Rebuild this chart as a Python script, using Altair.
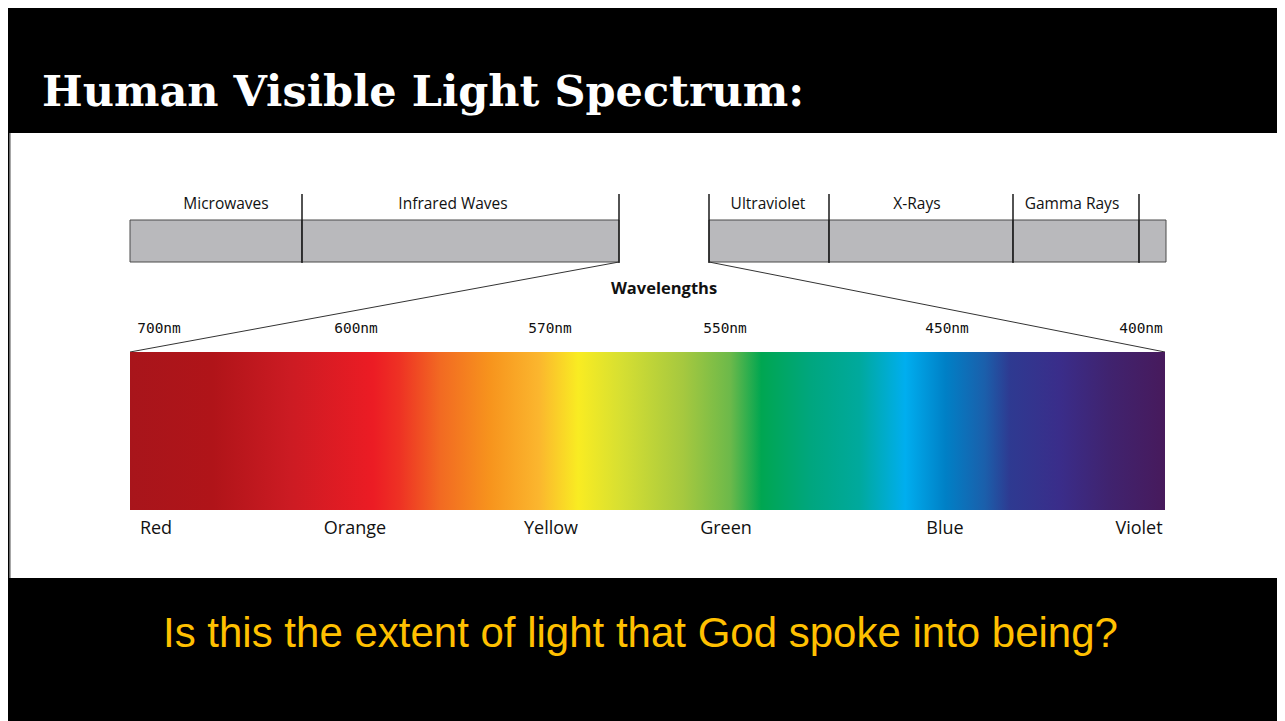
import altair as alt
import pandas as pd

# ---------------- data (diagram coordinates, px on the slide) ----------------
title_text = ["Human Visible Light Spectrum:"]
question_text = ["Is this the extent of light that God spoke into being?"]

band_names = ["Microwaves", "Infrared  Waves", "Ultraviolet", "X-Rays", "Gamma Rays", ""]
band_start = [130, 302, 709, 829, 1013, 1139]
band_end = [302, 619, 829, 1013, 1139, 1166]
band_label_x = [226, 453, 768, 917, 1072, 1152]
divider_x = [302, 619, 709, 829, 1013, 1139]

wavelength_labels = ["700nm", "600nm", "570nm", "550nm", "450nm", "400nm"]
wavelength_x = [159, 356, 550, 725, 947, 1141]

colour_names = ["Red", "Orange", "Yellow", "Green", "Blue", "Violet"]
colour_x = [156, 355, 551, 726, 945, 1139]

stop_offsets = [0.0, 0.08, 0.155, 0.235, 0.26, 0.30, 0.348, 0.395, 0.433,
                0.475, 0.535, 0.58, 0.61, 0.657, 0.705, 0.749, 0.788,
                0.826, 0.85, 0.898, 0.946, 1.0]
stop_colours = ["#a8151b", "#b01419", "#cc1b23", "#ec1c24", "#ee3124", "#f26a22",
                "#f7941d", "#fbb62e", "#f9ec22", "#d6df32", "#a5c83f", "#6cb94a",
                "#00a651", "#00a67e", "#00a99d", "#00aeef", "#0080c6", "#1b5fab",
                "#2e3a91", "#3a2d8a", "#40236f", "#471a5c"]

# ---------------- scales ----------------
W, H = 1269, 713
xs = alt.Scale(domain=[8, 8 + W], nice=False, zero=False)
ys = alt.Scale(domain=[8, 8 + H], nice=False, zero=False, reverse=True)


def X(f="x"):
    return alt.X(f"{f}:Q", scale=xs, axis=None)


def Y(f="y"):
    return alt.Y(f"{f}:Q", scale=ys, axis=None)


# white panel
panel_df = pd.DataFrame({"x": [10], "x2": [1300], "y": [133], "y2": [578]})
panel = alt.Chart(panel_df).mark_rect(fill="white").encode(
    x=X(), x2="x2", y=Y(), y2="y2")
panel_edge = alt.Chart(panel_df).mark_rule(color="#8a8a8a", strokeWidth=1.5).encode(
    x=X(), y=Y(), y2="y2")

# gray EM bands
bands_df = pd.DataFrame({"name": band_names, "x": band_start, "x2": band_end,
                         "xc": band_label_x, "y": [220] * 6, "y2": [262] * 6,
                         "yt": [204] * 6})
bands = alt.Chart(bands_df).mark_rect(fill="#b9b9bc", stroke="#4a4a4a", strokeWidth=1).encode(
    x=X(), x2="x2", y=Y(), y2="y2")
band_labels = alt.Chart(bands_df).mark_text(
    font="Open Sans", fontSize=15.5, color="#111111", align="center", baseline="middle"
).encode(x=X("xc"), y=Y("yt"), text="name:N")

div_df = pd.DataFrame({"x": divider_x, "y": [194] * 6, "y2": [263] * 6})
dividers = alt.Chart(div_df).mark_rule(color="#1a1a1a", strokeWidth=1.5).encode(
    x=X(), y=Y(), y2="y2")

# zoom lines
zoom_df = pd.DataFrame({"x": [619, 709], "y": [262, 262], "x2": [130, 1165], "y2": [352, 352]})
zoom_lines = alt.Chart(zoom_df).mark_rule(color="#333333", strokeWidth=1).encode(
    x=X(), y=Y(), x2="x2", y2="y2")

wl_title = alt.Chart(pd.DataFrame({"x": [664], "y": [289], "t": ["Wavelengths"]})).mark_text(
    font="Open Sans", fontSize=16.5, fontWeight="bold", color="#111111",
    align="center", baseline="middle").encode(x=X(), y=Y(), text="t:N")

wl_df = pd.DataFrame({"t": wavelength_labels, "x": wavelength_x, "y": [329] * 6})
wl_labels = alt.Chart(wl_df).mark_text(
    font="DejaVu Sans Mono", fontSize=14.5, color="#111111", align="center", baseline="middle"
).encode(x=X(), y=Y(), text="t:N")

# spectrum bar
gradient = alt.LinearGradient(
    gradient="linear",
    stops=[alt.GradientStop(color=c, offset=o) for o, c in zip(stop_offsets, stop_colours)],
    x1=0, x2=1, y1=0, y2=0)
spec_df = pd.DataFrame({"x": [130], "x2": [1165], "y": [352], "y2": [510]})
spectrum = alt.Chart(spec_df).mark_rect(fill=gradient).encode(
    x=X(), x2="x2", y=Y(), y2="y2")

col_df = pd.DataFrame({"t": colour_names, "x": colour_x, "y": [529] * 6})
col_labels = alt.Chart(col_df).mark_text(
    font="Open Sans", fontSize=18, color="#111111", align="center", baseline="middle"
).encode(x=X(), y=Y(), text="t:N")

# title and question
title = alt.Chart(pd.DataFrame({"x": [42], "y": [106], "t": title_text})).mark_text(
    font="DejaVu Serif", fontSize=43, fontWeight="bold",
    color="white", align="left", baseline="alphabetic").encode(x=X(), y=Y(), text="t:N")

question = alt.Chart(pd.DataFrame({"x": [163], "y": [647], "t": question_text})).mark_text(
    font="Liberation Sans", fontSize=42, color="#ffc000",
    align="left", baseline="alphabetic").encode(x=X(), y=Y(), text="t:N")

chart = alt.layer(
    panel, panel_edge, bands, dividers, band_labels, zoom_lines, wl_title, wl_labels,
    spectrum, col_labels, title, question
).properties(
    width=W, height=H, background="black", padding=0,
    autosize=alt.AutoSizeParams(type="none")
).configure_view(stroke=None)

chart.save("out.html", embed_options={"renderer": "svg", "actions": False})
